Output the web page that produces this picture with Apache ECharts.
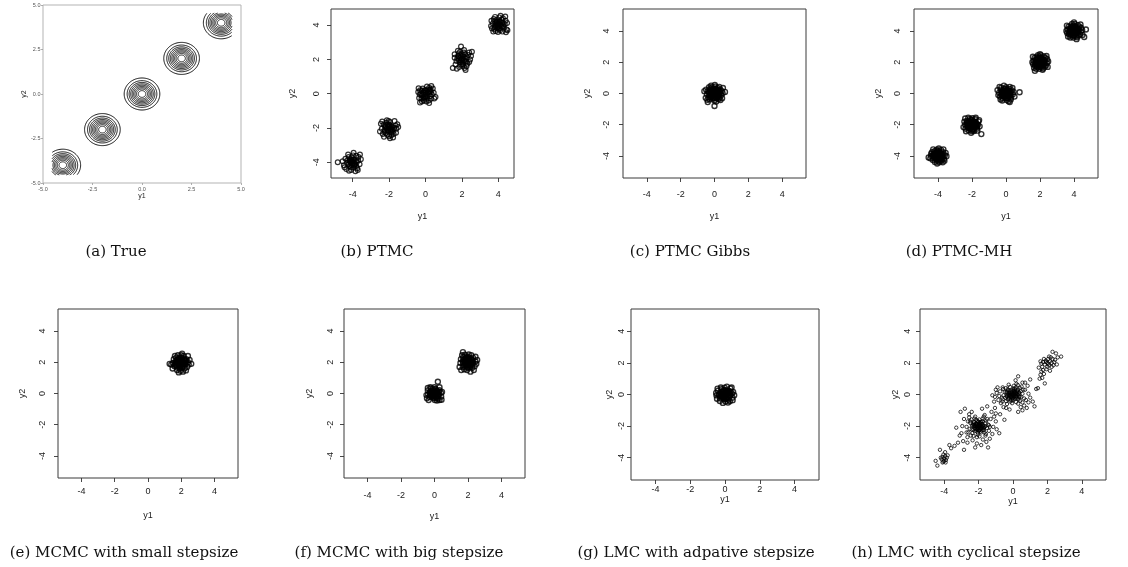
<!DOCTYPE html>
<html>
<head>
<meta charset="utf-8">
<title>Sampling results on a 2-D mixture of Gaussians</title>
<script src="https://cdn.jsdelivr.net/npm/echarts@6/dist/echarts.min.js"></script>
<style>
  html, body { margin: 0; padding: 0; background: #fff; }
  #chart { width: 1128px; height: 567px; }
</style>
</head>
<body>
<div id="chart"></div>
<script>
// ---------- tick values ----------
const TICKS_TRUE = [-5, -2.5, 0, 2.5, 5];
const TICKS_R = [-4, -2, 0, 2, 4];

// ---------- (a) true density: mixture centres and contour radii ----------
const trueCentres = [[-4, -4], [-2, -2], [0, 0], [2, 2], [4, 4]];
const trueLevels = [0.90, 0.75, 0.65, 0.57, 0.495, 0.425, 0.355, 0.28, 0.19];
const trueGridLimit = 4.55;   // density was evaluated on [-4.55, 4.55]^2

// ---------- (b) PTMC ----------
const ptmcM1 = [[-4.12,-3.95],[-3.88,-4.10],[-4.05,-3.72],[-3.70,-3.90],[-4.30,-4.05],[-3.95,-4.32],[-4.18,-4.22],[-3.80,-3.62],[-4.40,-3.80],[-3.62,-4.12],[-4.02,-4.05],[-3.92,-3.85],[-4.22,-3.70],[-4.08,-4.45],[-3.75,-4.35],[-4.48,-4.18],[-3.55,-3.82],[-4.25,-3.55],[-3.98,-3.60],[-3.85,-4.52],[-4.35,-4.40],[-3.68,-3.70],[-4.15,-3.85],[-3.90,-4.20],[-4.00,-3.92],[-4.55,-3.95],[-3.78,-4.00],[-4.10,-4.30],[-4.28,-3.88],[-3.60,-3.55],[-4.82,-4.00],[-3.95,-3.45],[-4.20,-4.50],[-3.72,-4.45],[-4.45,-4.30]];
const ptmcM1b = [[-4.02,-3.98],[-3.92,-4.06],[-4.12,-4.02],[-3.96,-3.84],[-4.06,-4.16],[-3.84,-3.94],[-4.18,-3.90],[-3.90,-4.14],[-4.08,-3.82],[-4.22,-4.12],[-3.80,-4.22],[-4.00,-4.10]];
const ptmcM2 = [[-2.05,-1.95],[-1.80,-2.10],[-2.25,-2.20],[-1.95,-1.65],[-2.30,-1.80],[-1.65,-1.85],[-2.10,-2.40],[-1.75,-2.35],[-2.40,-2.05],[-1.90,-2.25],[-2.15,-1.70],[-1.60,-2.05],[-2.00,-2.48],[-2.35,-2.35],[-1.85,-1.90],[-2.20,-1.98],[-1.70,-1.60],[-2.45,-1.75],[-1.92,-2.05],[-2.08,-2.15],[-1.55,-1.78],[-2.28,-2.52],[-1.78,-2.55],[-2.12,-1.55],[-1.98,-1.82],[-2.50,-2.20],[-1.62,-2.28],[-2.18,-2.30],[-1.88,-2.42],[-2.02,-1.60],[-1.72,-2.00],[-2.38,-1.62],[-1.50,-1.95],[-2.22,-1.88],[-1.95,-2.60]];
const ptmcM2b = [[-2.02,-2.00],[-1.90,-2.08],[-2.12,-2.04],[-1.96,-1.86],[-2.06,-2.18],[-1.84,-1.96],[-2.18,-1.90],[-1.90,-2.16],[-2.08,-1.82],[-2.24,-2.12],[-1.80,-2.22],[-2.00,-1.92]];
const ptmcM3 = [[0.00,0.05],[-0.20,-0.10],[0.25,0.15],[0.10,-0.25],[-0.30,0.20],[0.35,-0.05],[-0.15,0.30],[0.20,0.35],[-0.35,-0.25],[0.05,-0.45],[0.40,0.30],[-0.10,-0.40],[0.30,-0.30],[-0.25,0.00],[0.15,0.10],[-0.05,0.20],[0.45,0.05],[-0.40,0.10],[0.25,-0.15],[-0.20,-0.45],[0.08,0.42],[0.55,-0.20],[-0.32,-0.05],[0.18,-0.40],[-0.12,0.05],[0.32,0.45],[-0.38,0.32],[0.00,-0.15],[0.12,0.25],[-0.22,-0.30],[0.20,-0.55],[-0.30,-0.52],[0.48,-0.28],[-0.05,-0.30],[0.28,0.25]];
const ptmcM3b = [[0.02,-0.02],[0.12,0.06],[-0.10,0.10],[0.06,-0.12],[-0.14,-0.06],[0.20,-0.02],[0.00,0.18],[-0.04,-0.20],[0.22,0.24],[-0.20,0.18],[0.30,0.10],[-0.12,-0.22]];
const ptmcM4 = [[2.00,2.05],[1.80,2.20],[2.20,1.90],[1.95,1.70],[2.35,2.25],[1.70,1.90],[2.10,2.40],[1.85,1.55],[2.25,1.60],[2.45,2.00],[1.60,2.30],[2.05,2.20],[1.90,2.45],[2.30,1.75],[1.75,2.05],[2.15,1.50],[1.65,1.70],[2.40,2.40],[1.95,1.95],[2.05,1.80],[1.82,2.35],[2.28,2.12],[1.50,1.50],[1.95,2.75],[2.50,2.20],[2.12,2.55],[1.72,1.45],[2.20,1.38],[1.88,1.85],[2.40,1.85],[1.60,2.10],[2.02,1.62],[2.18,2.30],[1.78,2.50],[2.55,2.45]];
const ptmcM4b = [[2.02,2.00],[1.90,2.10],[2.12,1.96],[1.96,1.84],[2.10,2.14],[1.84,1.96],[2.20,2.06],[1.92,2.24],[2.06,1.70],[2.26,1.86],[1.80,2.18],[2.00,2.30]];
const ptmcM5 = [[4.00,4.05],[3.80,3.90],[4.20,4.15],[3.90,4.30],[4.30,3.85],[3.70,4.10],[4.10,3.70],[4.40,4.25],[3.85,3.65],[4.05,4.45],[3.65,3.80],[4.25,4.40],[3.95,3.85],[4.15,3.95],[3.75,4.35],[4.45,3.75],[3.88,4.15],[4.08,4.22],[4.35,4.05],[3.60,3.95],[4.50,3.70],[3.98,3.60],[4.22,3.62],[3.72,3.62],[4.12,4.55],[3.82,4.48],[4.38,4.50],[4.02,3.78],[3.92,4.00],[4.28,3.95],[3.62,4.25],[4.48,4.12],[3.78,3.78],[4.18,4.32],[4.42,3.58]];
const ptmcM5b = [[4.02,4.00],[3.90,4.08],[4.12,4.04],[3.96,3.88],[4.06,4.18],[3.84,3.98],[4.20,3.90],[3.92,4.20],[4.08,3.80],[4.24,4.14],[3.78,4.22],[4.00,3.94]];

// ---------- (c) PTMC Gibbs ----------
const gibbsM3 = [[0.00,0.00],[0.15,0.10],[-0.12,0.18],[0.22,-0.15],[-0.20,-0.10],[0.05,0.30],[0.30,0.05],[-0.30,0.05],[0.10,-0.28],[-0.08,-0.32],[0.35,0.25],[-0.25,0.30],[0.25,-0.35],[-0.35,-0.25],[0.40,-0.10],[-0.40,0.15],[0.05,0.45],[0.00,-0.45],[0.18,0.35],[-0.15,0.40],[0.42,0.15],[-0.45,-0.05],[0.30,-0.25],[-0.28,-0.38],[0.12,-0.10],[-0.05,0.08],[0.20,0.20],[-0.18,-0.20],[0.08,0.15],[-0.10,-0.05],[0.48,0.02],[-0.50,0.25],[0.28,0.42],[-0.32,0.40],[0.35,-0.42],[-0.42,-0.40],[0.02,0.55],[0.10,-0.52],[-0.60,0.15],[0.62,0.10],[-0.40,-0.55],[0.00,-0.80],[0.50,0.35],[-0.20,0.50],[0.45,-0.30],[-0.52,-0.28],[0.22,0.05]];
const gibbsM3b = [[0.05,0.02],[-0.06,0.05],[0.10,-0.08],[-0.12,-0.04],[0.02,0.12],[-0.03,-0.12],[0.18,0.10],[-0.18,0.12],[0.14,-0.18],[-0.15,-0.16],[0.22,-0.02],[-0.22,0.00],[0.00,0.22],[0.04,-0.22],[0.25,0.18],[-0.24,0.22],[0.20,-0.25],[-0.22,-0.26],[0.30,-0.08],[-0.30,-0.10],[0.08,0.30],[-0.10,0.28],[0.12,-0.32],[-0.05,-0.28],[0.32,0.10],[-0.32,0.08]];

// ---------- (d) PTMC-MH ----------
const mhM1 = [[-4.00,-4.00],[-3.85,-3.90],[-4.15,-4.10],[-3.90,-4.20],[-4.10,-3.80],[-3.75,-4.05],[-4.25,-3.95],[-3.95,-3.70],[-4.05,-4.30],[-3.70,-3.75],[-4.30,-4.25],[-3.80,-4.30],[-4.20,-3.70],[-3.60,-3.95],[-4.40,-4.00],[-3.92,-4.40],[-4.08,-3.60],[-3.65,-4.20],[-4.35,-3.75],[-3.88,-3.82],[-4.12,-4.18],[-3.98,-3.92],[-4.02,-4.08],[-3.78,-4.12],[-4.22,-3.88],[-3.82,-3.62],[-4.18,-4.38],[-3.55,-3.80],[-4.45,-4.15],[-3.68,-3.58],[-4.28,-3.58],[-3.72,-4.40],[-4.05,-4.48],[-3.95,-3.52],[-3.62,-4.30],[-4.40,-3.85],[-4.55,-4.10],[-3.50,-4.02],[-3.90,-4.05],[-4.12,-3.95]];
const mhM1b = [[-3.96,-3.98],[-4.06,-3.94],[-3.90,-4.08],[-4.10,-4.06],[-4.00,-3.86],[-3.98,-4.14],[-3.82,-3.96],[-4.18,-3.98],[-3.86,-4.20],[-4.14,-3.80],[-3.78,-3.82],[-4.22,-4.16],[-4.02,-4.22],[-3.96,-3.78],[-4.26,-3.84],[-3.74,-4.18],[-3.88,-3.90],[-4.08,-4.12],[-4.30,-4.02],[-3.70,-3.98],[-4.04,-3.70],[-3.94,-4.30]];
const mhM2 = [[-2.00,-2.00],[-1.85,-2.10],[-2.15,-1.90],[-1.90,-1.80],[-2.10,-2.20],[-1.75,-1.95],[-2.25,-2.05],[-1.95,-2.30],[-2.05,-1.70],[-1.70,-2.25],[-2.30,-1.75],[-1.80,-1.65],[-2.20,-2.35],[-1.65,-2.00],[-2.40,-2.00],[-2.00,-2.42],[-1.98,-1.58],[-1.62,-1.78],[-2.38,-2.25],[-2.12,-1.62],[-1.88,-2.40],[-2.28,-1.88],[-1.72,-2.12],[-2.08,-2.08],[-1.92,-1.95],[-2.18,-2.18],[-1.82,-1.85],[-2.45,-1.80],[-1.55,-2.10],[-2.35,-2.42],[-1.68,-2.38],[-2.22,-1.55],[-1.78,-1.55],[-1.58,-1.70],[-2.50,-2.15],[-2.05,-2.52],[-2.40,-1.60],[-1.45,-2.60],[-1.90,-2.10],[-2.10,-1.85]];
const mhM2b = [[-2.04,-1.98],[-1.94,-2.06],[-2.10,-1.94],[-1.90,-1.92],[-2.00,-2.14],[-2.02,-1.84],[-1.80,-2.02],[-2.20,-2.00],[-1.86,-2.20],[-2.16,-1.80],[-1.78,-1.84],[-2.24,-2.18],[-2.06,-2.26],[-1.96,-1.76],[-2.28,-1.86],[-1.74,-2.16],[-1.90,-2.00],[-2.10,-2.10],[-2.32,-2.02],[-1.70,-2.00],[-2.02,-1.68],[-1.96,-2.32]];
const mhM3 = [[0.00,0.00],[0.15,-0.10],[-0.15,0.10],[0.10,0.20],[-0.10,-0.20],[0.25,0.05],[-0.25,-0.05],[0.05,-0.30],[-0.05,0.30],[0.30,-0.25],[-0.30,0.25],[0.20,0.30],[-0.20,-0.30],[0.35,0.20],[-0.35,-0.20],[0.00,0.40],[0.05,-0.42],[-0.40,0.05],[0.40,-0.05],[0.28,-0.38],[-0.28,0.38],[-0.32,-0.38],[0.22,0.42],[0.12,0.05],[-0.08,-0.05],[0.02,0.15],[-0.02,-0.15],[0.18,-0.20],[-0.18,0.20],[0.45,0.10],[-0.45,-0.10],[-0.12,0.50],[0.15,-0.50],[0.50,-0.20],[-0.50,0.22],[0.80,0.08],[0.22,-0.55],[-0.38,0.42],[0.38,0.35],[-0.22,-0.45]];
const mhM3b = [[0.04,0.02],[-0.06,-0.04],[0.10,-0.06],[-0.10,0.08],[0.02,0.14],[0.00,-0.12],[0.18,0.04],[-0.18,-0.02],[0.14,0.18],[-0.14,-0.20],[0.20,-0.18],[-0.20,0.16],[0.06,0.24],[-0.04,-0.26],[0.28,0.12],[-0.28,-0.10],[0.26,-0.10],[-0.26,0.10],[0.10,-0.30],[-0.10,0.30],[0.08,0.08],[-0.08,-0.10]];
const mhM4 = [[2.00,2.00],[1.85,2.15],[2.15,1.85],[1.90,1.85],[2.10,2.20],[1.75,2.00],[2.25,2.05],[2.00,1.70],[2.00,2.32],[1.70,1.80],[2.32,2.28],[1.80,2.32],[2.28,1.72],[1.62,2.10],[2.40,1.95],[2.05,2.45],[1.95,1.58],[2.42,2.20],[1.60,1.88],[1.88,2.45],[2.18,1.60],[2.12,2.02],[1.92,1.98],[2.08,1.92],[1.82,1.72],[2.22,2.38],[1.68,2.28],[2.35,1.80],[1.78,1.58],[2.48,2.05],[1.55,2.00],[2.00,2.52],[2.15,1.52],[2.38,2.40],[1.65,1.65],[1.70,1.45],[2.45,1.70],[1.58,2.35],[1.95,2.10],[2.05,1.80]];
const mhM4b = [[2.04,1.98],[1.96,2.04],[2.10,2.08],[1.90,1.94],[2.02,2.16],[1.98,1.84],[2.20,1.98],[1.80,2.02],[2.14,1.80],[1.84,2.20],[2.22,2.18],[1.78,1.82],[2.06,2.28],[1.94,1.72],[2.28,2.06],[1.72,1.94],[2.26,1.88],[1.74,2.14],[2.10,1.68],[1.90,2.30],[2.00,2.00],[2.12,1.92]];
const mhM5 = [[4.00,4.00],[3.85,4.10],[4.15,3.90],[3.90,3.85],[4.10,4.15],[3.75,3.95],[4.25,4.05],[4.00,3.70],[4.00,4.32],[3.70,3.80],[4.32,4.28],[3.80,4.30],[4.28,3.72],[3.62,4.10],[4.40,3.95],[4.05,4.45],[3.95,3.58],[4.42,4.20],[3.60,3.88],[3.88,4.45],[4.18,3.60],[4.12,4.02],[3.92,3.98],[4.08,3.92],[3.82,3.72],[4.22,4.38],[3.68,4.28],[4.35,3.80],[3.78,3.58],[4.48,4.05],[3.55,4.00],[4.00,4.55],[4.15,3.48],[4.38,4.42],[3.65,3.65],[4.60,3.62],[4.70,4.10],[4.50,3.75],[3.58,4.35],[4.05,4.20]];
const mhM5b = [[4.02,3.98],[3.94,4.04],[4.10,4.08],[3.90,3.92],[4.04,4.16],[3.98,3.84],[4.20,4.00],[3.80,4.04],[4.14,3.82],[3.84,4.20],[4.22,4.18],[3.78,3.82],[4.06,4.28],[3.96,3.72],[4.28,4.08],[3.72,3.94],[4.26,3.90],[3.74,4.14],[4.12,3.68],[3.92,4.30],[4.00,4.02],[4.10,3.94]];

// ---------- (e) MCMC, small step size ----------
const mcmcSmall = [[1.95,1.95],[2.10,2.05],[1.80,1.85],[2.05,1.75],[1.85,2.15],[2.25,1.90],[1.65,2.00],[2.00,2.30],[1.90,1.60],[2.30,2.20],[1.60,1.75],[2.20,1.60],[1.70,2.30],[2.40,2.00],[1.50,1.95],[2.00,2.45],[1.95,1.45],[2.35,1.70],[1.55,2.20],[1.80,2.45],[2.15,2.40],[2.45,1.85],[1.40,1.85],[1.75,1.50],[2.10,1.40],[2.50,2.15],[1.98,2.10],[2.08,1.88],[1.88,1.98],[2.18,2.18],[1.72,1.72],[2.28,1.48],[1.62,2.40],[2.05,2.55],[1.30,1.90],[2.60,1.90],[1.85,1.35],[2.40,2.40],[1.48,1.60],[2.20,2.00],[1.78,2.05],[2.00,1.85]];
const mcmcSmallB = [[1.98,1.96],[1.90,2.02],[2.06,2.06],[1.86,1.90],[2.00,2.14],[1.94,1.82],[2.16,1.96],[1.76,2.00],[2.10,1.80],[1.80,2.18],[2.18,2.16],[1.74,1.80],[2.02,2.26],[1.92,1.70],[2.24,2.04],[1.68,1.92],[2.22,1.86],[1.70,2.12],[2.06,1.66],[1.88,2.28],[1.96,1.98],[2.08,1.90],[2.30,2.10],[1.62,1.84]];

// ---------- (f) MCMC, big step size ----------
const mcmcBigM3 = [[0.00,0.00],[0.15,0.10],[-0.15,-0.10],[0.10,-0.20],[-0.10,0.20],[0.25,-0.05],[-0.25,0.05],[0.05,0.30],[-0.05,-0.30],[0.30,0.22],[-0.30,-0.22],[0.22,-0.32],[-0.22,0.32],[0.38,0.05],[-0.38,-0.05],[0.00,0.40],[0.02,-0.42],[-0.40,0.20],[0.40,-0.20],[0.30,-0.42],[-0.35,-0.42],[-0.25,0.40],[0.30,0.40],[0.12,0.08],[-0.08,-0.12],[0.05,-0.08],[-0.12,0.08],[0.45,0.10],[-0.48,-0.10],[0.20,0.75],[-0.45,-0.30],[0.15,-0.45],[0.42,-0.40],[-0.40,0.35]];
const mcmcBigM3b = [[0.02,0.03],[-0.08,-0.05],[0.09,-0.09],[-0.11,0.06],[0.03,0.15],[-0.01,-0.14],[0.19,0.05],[-0.19,-0.03],[0.15,0.17],[-0.15,-0.19],[0.19,-0.17],[-0.21,0.15],[0.07,0.25],[-0.05,-0.24],[0.27,0.13],[-0.27,-0.12],[0.25,-0.12],[-0.28,0.08],[0.12,-0.28],[-0.09,0.29]];
const mcmcBigM4 = [[2.00,2.00],[2.15,2.10],[1.85,1.90],[2.10,1.80],[1.90,2.20],[2.30,1.95],[1.70,2.05],[2.00,2.35],[2.00,1.65],[2.30,2.30],[1.70,1.70],[2.25,1.65],[1.72,2.32],[2.45,2.05],[1.55,1.95],[2.05,2.50],[1.95,1.50],[2.40,1.75],[1.58,2.20],[1.82,2.48],[2.20,2.45],[2.50,1.90],[1.50,1.70],[1.78,1.55],[2.15,1.40],[2.45,2.35],[2.05,2.12],[1.92,2.02],[2.08,1.90],[1.88,1.78],[2.22,2.20],[1.65,2.45],[1.70,2.65],[2.35,1.50],[1.60,1.50],[2.55,2.15],[1.95,2.28],[2.18,1.85]];
const mcmcBigM4b = [[2.03,1.99],[1.95,2.05],[2.11,2.07],[1.89,1.93],[2.03,2.17],[1.97,1.83],[2.21,1.99],[1.79,2.03],[2.13,1.79],[1.83,2.21],[2.23,2.17],[1.77,1.81],[2.07,2.29],[1.93,1.71],[2.29,2.07],[1.71,1.93],[2.27,1.87],[1.73,2.15],[2.11,1.67],[1.89,2.31]];

// ---------- (g) LMC, adaptive step size ----------
const lmcAdaptive = [[0.02,-0.02],[0.16,0.08],[-0.14,-0.12],[0.08,-0.22],[-0.12,0.18],[0.27,-0.04],[-0.24,0.07],[0.04,0.28],[-0.06,-0.31],[0.32,0.20],[-0.29,-0.24],[0.20,-0.34],[-0.20,0.34],[0.40,0.06],[-0.37,-0.03],[-0.02,0.43],[0.03,-0.44],[-0.41,0.24],[0.43,-0.20],[0.28,-0.43],[-0.30,-0.41],[-0.24,0.44],[0.31,0.38],[0.13,0.10],[-0.09,-0.10],[0.47,0.16],[-0.49,-0.06],[0.53,-0.04],[-0.46,-0.27],[0.11,0.50],[-0.12,-0.53],[0.17,-0.51],[0.44,-0.36],[-0.43,0.37],[-0.16,-0.06],[0.21,0.22],[0.06,0.12],[-0.04,-0.16],[-0.51,0.10],[0.38,0.44]];
const lmcAdaptiveB = [[0.01,0.00],[-0.07,-0.06],[0.08,-0.08],[-0.10,0.07],[0.04,0.14],[-0.02,-0.15],[0.17,0.06],[-0.18,-0.04],[0.16,0.16],[-0.14,-0.18],[0.18,-0.16],[-0.20,0.14],[0.06,0.24],[-0.06,-0.25],[0.26,0.14],[-0.26,-0.13],[0.26,-0.11],[-0.27,0.09],[0.13,-0.27],[-0.08,0.28],[0.33,-0.02],[-0.33,0.00]];

// ---------- (h) LMC, cyclical step size ----------
const cycM1 = [[-4.00,-4.05],[-3.90,-4.15],[-4.10,-3.95],[-3.95,-3.90],[-4.05,-4.25],[-4.15,-4.10],[-3.85,-4.00],[-4.00,-4.20],[-3.92,-4.30],[-4.10,-4.30],[-3.80,-3.85],[-4.20,-4.00],[-4.50,-4.20],[-4.40,-4.50],[-4.25,-3.50],[-3.70,-3.20],[-3.95,-3.65],[-4.05,-3.80]];
const cycM2 = [[-2.00,-2.00],[-1.88,-2.10],[-2.12,-1.90],[-1.92,-1.82],[-2.08,-2.18],[-1.75,-1.98],[-2.25,-2.02],[-1.98,-2.28],[-2.02,-1.72],[-1.72,-2.25],[-2.28,-1.75],[-1.78,-1.70],[-2.22,-2.32],[-1.62,-2.02],[-2.38,-1.98],[-2.04,-2.42],[-1.96,-1.58],[-1.60,-1.80],[-2.40,-2.22],[-2.15,-1.60],[-1.85,-2.40],[-2.30,-1.86],[-1.70,-2.12],[-2.08,-2.08],[-1.92,-1.95],[-2.18,-2.18],[-1.82,-1.88],[-2.48,-1.80],[-1.52,-2.12],[-2.36,-2.44],[-1.66,-2.40],[-2.24,-1.52],[-1.76,-1.52],[-1.56,-1.66],[-2.52,-2.18],[-2.05,-2.55],[-2.42,-1.58],[-1.58,-2.50],[-1.90,-2.12],[-2.10,-1.86],[-2.60,-2.40],[-1.45,-1.90],[-2.30,-2.62],[-1.40,-2.30],[-2.62,-1.70],[-1.70,-1.40],[-2.10,-2.70],[-1.95,-2.65],[-2.70,-2.05],[-1.35,-2.05],[-2.20,-1.40],[-1.60,-2.60],[-2.45,-2.60],[-1.50,-1.55],[-2.55,-1.45]];
const cycM2b = [[-2.02,-1.98],[-1.95,-2.05],[-2.08,-1.94],[-1.92,-1.93],[-2.03,-2.12],[-2.00,-1.86],[-1.84,-2.00],[-2.16,-2.02],[-1.88,-2.16],[-2.12,-1.84],[-1.82,-1.86],[-2.20,-2.14],[-2.06,-2.22],[-1.96,-1.78],[-2.24,-1.90],[-1.78,-2.12],[-2.10,-2.06],[-1.94,-2.24],[-2.28,-2.00],[-1.72,-1.98],[-2.02,-1.72],[-2.00,-2.30],[-1.86,-1.74],[-2.14,-2.28],[-2.30,-2.24],[-1.70,-2.24],[-2.26,-1.76],[-1.76,-1.72],[-1.90,-2.34],[-2.34,-1.94],[-1.66,-2.06],[-2.08,-1.66],[-1.98,-2.02],[-2.18,-1.96],[-1.82,-2.26]];
const cycM3 = [[0.00,0.00],[0.12,0.08],[-0.12,-0.08],[0.08,-0.15],[-0.08,0.15],[0.22,0.02],[-0.22,-0.02],[0.02,0.25],[-0.02,-0.25],[0.25,0.20],[-0.25,-0.20],[0.20,-0.25],[-0.20,0.25],[0.35,0.08],[-0.35,-0.08],[0.05,0.38],[-0.05,-0.38],[0.38,-0.12],[-0.38,0.12],[0.30,0.32],[-0.30,-0.32],[0.32,-0.32],[-0.32,0.32],[0.15,0.45],[-0.15,-0.45],[0.45,0.20],[-0.45,-0.20],[0.48,-0.15],[-0.48,0.15],[0.18,-0.48],[-0.18,0.48],[0.40,0.42],[-0.40,-0.42],[0.42,-0.40],[-0.42,0.40],[0.55,0.05],[-0.55,-0.05],[0.05,0.55],[-0.05,-0.55],[0.60,0.30],[-0.58,0.35],[0.30,-0.58],[-0.35,-0.60],[0.28,0.60],[0.10,0.15],[-0.10,-0.15],[0.15,-0.05],[-0.15,0.05],[0.65,-0.25],[-0.65,-0.20],[0.20,0.68],[-0.25,0.62],[0.50,0.50],[-0.62,-0.45],[0.55,-0.50]];
const cycM3b = [[0.02,0.02],[-0.05,-0.05],[0.08,-0.06],[-0.08,0.06],[0.03,0.12],[0.00,-0.12],[0.16,0.04],[-0.16,-0.02],[0.12,0.16],[-0.12,-0.16],[0.18,-0.14],[-0.18,0.14],[0.06,0.22],[-0.04,-0.22],[0.24,0.12],[-0.24,-0.10],[0.22,-0.12],[-0.24,0.10],[0.10,-0.26],[-0.08,0.26],[0.30,-0.02],[-0.30,0.00],[0.02,0.32],[0.00,-0.32],[0.26,0.26],[-0.26,-0.26],[0.28,-0.26],[-0.28,0.26],[0.14,0.34],[-0.14,-0.34],[0.36,0.14],[-0.36,-0.14],[0.36,-0.16],[-0.36,0.18],[0.06,0.06]];
const cycM4 = [[2.00,2.00],[2.15,2.10],[1.85,1.90],[2.10,1.85],[1.90,2.15],[2.25,2.00],[1.75,2.05],[2.05,2.25],[2.00,1.75],[2.30,2.25],[1.70,1.75],[2.25,1.75],[1.80,2.25],[2.40,2.05],[1.65,1.95],[2.10,2.40],[1.95,1.60],[2.35,1.85],[1.60,2.10],[2.20,2.35],[2.45,2.20],[1.75,1.55],[2.05,1.95],[1.92,2.05],[2.50,2.60],[2.80,2.40],[2.30,2.70],[2.60,2.35],[1.80,1.30],[1.55,1.00],[1.60,1.25],[1.70,1.05],[1.85,0.70],[1.35,0.35],[2.15,1.50],[1.65,1.45],[1.50,1.70],[2.55,1.90]];
const cycBridge = [[-3.30,-2.10],[-3.05,-1.10],[-2.80,-0.90],[-2.85,-1.55],[-2.90,-2.95],[-3.20,-3.05],[-2.85,-3.50],[-2.65,-3.05],[-2.55,-1.25],[-2.70,-2.40],[-3.00,-2.45],[-1.10,-1.40],[-1.30,-1.55],[-1.00,-1.70],[-0.95,-2.20],[-0.80,-2.45],[-1.45,-3.35],[-1.55,-3.00],[-1.25,-1.10],[-1.50,-0.75],[-1.05,-0.85],[-1.35,-2.80],[-1.20,-2.50],[-2.10,-3.10],[-1.85,-3.20],[-2.35,-2.90],[-1.00,-1.20],[-1.65,-1.30],[-2.50,-1.70],[-2.65,-2.70],[-1.75,-2.85],[-0.75,-1.25],[-1.40,-1.95],[-2.95,-2.00],[-2.40,-1.10],[-3.40,-3.25],[-2.20,-3.35],[-1.15,-2.05],[-1.00,0.30],[-0.95,0.10],[-1.05,-0.15],[-0.85,-0.35],[-0.90,0.45],[-0.75,0.20],[-1.10,-0.45],[-0.70,-0.55],[-0.60,0.45],[-0.80,-0.10],[0.30,1.15],[0.15,0.90],[0.55,0.75],[0.85,0.55],[1.00,0.95],[0.70,0.30],[0.90,-0.50],[1.15,-0.45],[1.25,-0.75],[0.80,-0.85],[0.55,-1.00],[0.30,-1.10],[0.65,-0.70],[1.00,-0.20],[0.75,-0.35],[-0.40,-0.85],[-0.20,-0.95],[0.45,-0.80],[-0.55,-0.80],[1.45,0.40],[0.90,0.05],[0.70,0.75],[-0.60,-0.30],[-1.20,-0.05],[-3.60,-3.40],[-3.10,-2.60],[-0.50,-1.60],[-1.80,-0.90]];

// ---------- captions ----------
const captions = ['(a) True', '(b) PTMC', '(c) PTMC Gibbs', '(d) PTMC-MH',
  '(e) MCMC with small stepsize', '(f) MCMC with big stepsize',
  '(g) LMC with adpative stepsize', '(h) LMC with cyclical stepsize'];

// ---------- layout ----------
const R_RANGE = [-5.41, 5.41];
const panels = [
  { box: [43, 5, 198, 178],  x: [-5, 5],        y: [-5, 5] },
  { box: [331, 9, 183, 169], x: [-5.19, 4.86],  y: [-4.92, 4.94], xl: 12.5, xn: 34, yl: 9.5, yn: 34 },
  { box: [623, 9, 183, 169], x: R_RANGE, y: R_RANGE, xl: 12.5, xn: 34, yl: 12, yn: 31 },
  { box: [914, 9, 184, 169], x: R_RANGE, y: R_RANGE, xl: 12.5, xn: 34, yl: 12, yn: 31 },
  { box: [58, 309, 180, 169],  x: R_RANGE, y: R_RANGE, xl: 9, xn: 33, yl: 10.5, yn: 31 },
  { box: [344, 309, 181, 169], x: R_RANGE, y: R_RANGE, xl: 13, xn: 34, yl: 8.5, yn: 29.5 },
  { box: [631, 309, 188, 171], x: R_RANGE, y: R_RANGE, xl: 5.5, xn: 15, yl: 4.5, yn: 17 },
  { box: [920, 309, 186, 171], x: R_RANGE, y: R_RANGE, xl: 7, xn: 10, yl: 7.5, yn: 20 }
];
const captionPos = [[116, 252], [377, 252], [690, 252], [959, 252],
                    [124, 553], [399, 553], [696, 553], [966, 553]];

const scatterSets = [
  null,
  { pts: [ptmcM1, ptmcM1b, ptmcM2, ptmcM2b, ptmcM3, ptmcM3b, ptmcM4, ptmcM4b, ptmcM5, ptmcM5b], size: 4.8, lw: 1.2 },
  { pts: [gibbsM3, gibbsM3b], size: 5, lw: 1.35 },
  { pts: [mhM1, mhM1b, mhM2, mhM2b, mhM3, mhM3b, mhM4, mhM4b, mhM5, mhM5b], size: 5, lw: 1.35 },
  { pts: [mcmcSmall, mcmcSmallB], size: 5, lw: 1.35 },
  { pts: [mcmcBigM3, mcmcBigM3b, mcmcBigM4, mcmcBigM4b], size: 5, lw: 1.35 },
  { pts: [lmcAdaptive, lmcAdaptiveB], size: 5, lw: 1.35 },
  { pts: [cycM1, cycM2, cycM2b, cycM3, cycM3b, cycM4, cycBridge], size: 3.4, lw: 0.95 }
];

const SANS = '"Liberation Sans", Arial, sans-serif';

const grids = [], xAxes = [], yAxes = [], series = [], graphics = [];

panels.forEach((p, i) => {
  const isTrue = i === 0;
  grids.push({
    left: p.box[0], top: p.box[1], width: p.box[2], height: p.box[3],
    show: true, borderColor: isTrue ? '#b3b3b3' : '#3a3a3a', borderWidth: 1,
    backgroundColor: 'transparent', containLabel: false
  });
  const ticks = isTrue ? TICKS_TRUE : TICKS_R;
  const tickStyle = isTrue
    ? { show: true, length: 2, lineStyle: { color: '#9a9a9a', width: 0.8 }, customValues: ticks }
    : { show: true, length: 4, lineStyle: { color: '#333', width: 0.9 }, customValues: ticks };
  const labelBase = isTrue
    ? { fontFamily: SANS, fontSize: 5.5, color: '#555', customValues: ticks,
        formatter: v => Number(v).toFixed(1) }
    : { fontFamily: SANS, fontSize: 9, color: '#1a1a1a', customValues: ticks };
  const nameStyle = isTrue
    ? { fontFamily: SANS, fontSize: 7, color: '#222' }
    : { fontFamily: SANS, fontSize: 9, color: '#1a1a1a' };

  xAxes.push({
    gridIndex: i, type: 'value', min: p.x[0], max: p.x[1],
    axisLine: { show: false, onZero: false }, splitLine: { show: false },
    axisTick: tickStyle,
    axisLabel: Object.assign({}, labelBase, { margin: isTrue ? 3 : p.xl }),
    name: 'y1', nameLocation: 'middle', nameGap: isTrue ? 9 : p.xn,
    nameTextStyle: nameStyle
  });
  yAxes.push({
    gridIndex: i, type: 'value', min: p.y[0], max: p.y[1],
    axisLine: { show: false, onZero: false }, splitLine: { show: false },
    axisTick: tickStyle,
    axisLabel: Object.assign({}, labelBase,
      isTrue ? { margin: 2.5 } : { margin: p.yl, rotate: 90 }),
    name: 'y2', nameLocation: 'middle', nameGap: isTrue ? 10 : p.yn,
    nameTextStyle: nameStyle
  });

  if (isTrue) {
    // contour rings of the true mixture density
    const rings = [];
    trueCentres.forEach(c => trueLevels.forEach(r => rings.push([c[0], c[1], r])));
    series.push({
      type: 'custom', xAxisIndex: i, yAxisIndex: i, data: rings, silent: true,
      renderItem: (params, api) => {
        const cx = api.value(0), cy = api.value(1), r = api.value(2);
        const segs = [];
        let cur = [];
        const n = 120;
        for (let k = 0; k <= n; k++) {
          const t = 2 * Math.PI * k / n;
          const px = cx + r * Math.cos(t), py = cy + r * Math.sin(t);
          if (Math.abs(px) <= trueGridLimit && Math.abs(py) <= trueGridLimit) {
            cur.push(api.coord([px, py]));
          } else if (cur.length) { segs.push(cur); cur = []; }
        }
        if (cur.length) segs.push(cur);
        return {
          type: 'group',
          children: segs.map(s => ({
            type: 'polyline', shape: { points: s },
            style: { stroke: '#111', fill: null, lineWidth: 1 }
          }))
        };
      }
    });
  } else {
    const set = scatterSets[i];
    set.pts.forEach(pts => {
      series.push({
        type: 'scatter', xAxisIndex: i, yAxisIndex: i, data: pts, silent: true,
        symbol: 'circle', symbolSize: set.size,
        itemStyle: { color: 'rgba(0,0,0,0)', borderColor: '#000', borderWidth: set.lw }
      });
    });
  }

  graphics.push({
    type: 'text', x: captionPos[i][0], y: captionPos[i][1],
    style: {
      text: captions[i], fill: '#111', font: '15px "DejaVu Serif", serif',
      textAlign: 'center', textVerticalAlign: 'middle'
    }
  });
});

const chart = echarts.init(document.getElementById('chart'), null, { renderer: 'canvas' });
chart.setOption({
  animation: false,
  backgroundColor: '#ffffff',
  grid: grids, xAxis: xAxes, yAxis: yAxes, series: series, graphic: graphics
});
</script>
</body>
</html>
